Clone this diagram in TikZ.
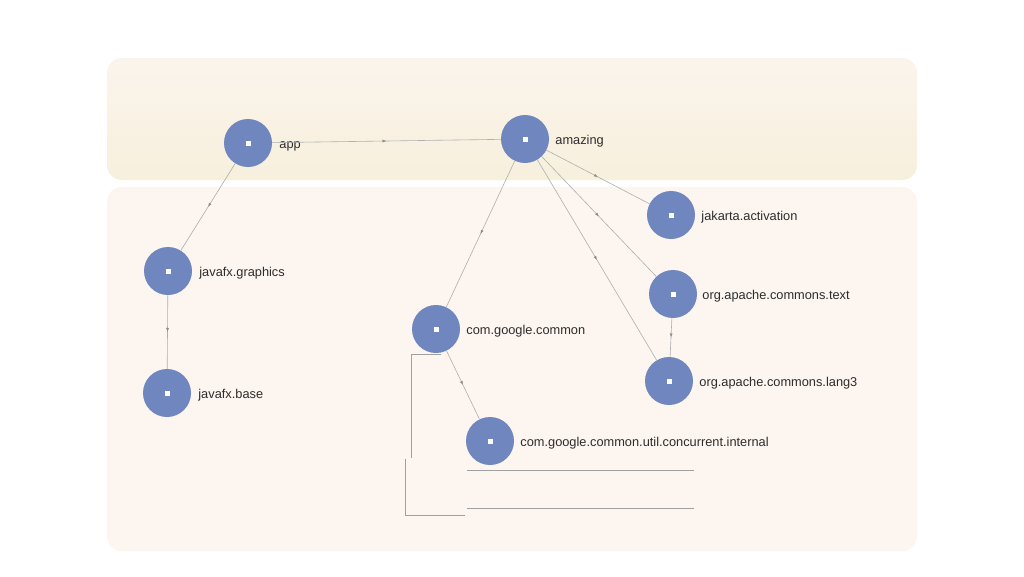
\documentclass[tikz,border=0pt]{standalone}
\usepackage{fontspec}
\setmainfont{Liberation Sans}
\usetikzlibrary{arrows.meta,decorations.markings}
\definecolor{nodeblue}{RGB}{112,134,190}
\definecolor{bandtop}{RGB}{251,244,236}
\definecolor{bandbot}{RGB}{247,240,221}
\definecolor{bandlow}{RGB}{252,245,240}
\definecolor{edgegray}{RGB}{175,175,175}
\definecolor{linegray}{RGB}{160,160,160}
\definecolor{textgray}{RGB}{45,45,45}
\tikzset{
  mod/.style={circle, fill=nodeblue, minimum size=48pt, inner sep=0pt, text=white},
  lbl/.style={anchor=west, inner sep=0pt, yshift=-2pt, text=textgray, font=\fontsize{12.8}{14}\selectfont, text height=9pt, text depth=2.5pt},
  edge/.style={draw=edgegray, line width=0.6pt,
    postaction={decorate, decoration={markings, mark=at position 0.5 with {\arrow[edgegray!80!black]{Latex[length=4pt,width=3pt]}}}}},
  stray/.style={draw=linegray, line width=0.6pt},
  band/.style={rounded corners=15pt}
}
\newcommand{\modsq}{\rule{5pt}{5pt}}
\begin{document}
\begin{tikzpicture}[x=1pt,y=-1pt]
\useasboundingbox[fill=white] (0,0) rectangle (1024,576);
% bands
\shade[band, top color=bandtop, bottom color=bandbot] (107,58) rectangle (917,180);
\fill[band, bandlow] (107,187) rectangle (917,551);
% nodes
\node[mod] (app) at (248,143) {\modsq};
\node[mod] (amazing) at (525,139) {\modsq};
\node[mod] (jfxg) at (168,271) {\modsq};
\node[mod] (jfxb) at (167,393) {\modsq};
\node[mod] (gcom) at (436,329) {\modsq};
\node[mod] (gint) at (490,441) {\modsq};
\node[mod] (jak) at (671,215) {\modsq};
\node[mod] (ctext) at (673,294) {\modsq};
\node[mod] (lang) at (669,381) {\modsq};
% labels
\node[lbl] (app-l) at ([xshift=7pt]app.east) {app};
\node[lbl] (amazing-l) at ([xshift=6pt]amazing.east) {amazing};
\node[lbl] (jfxg-l) at ([xshift=7pt]jfxg.east) {javafx.graphics};
\node[lbl] (jfxb-l) at ([xshift=7pt]jfxb.east) {javafx.base};
\node[lbl] (gcom-l) at ([xshift=6pt]gcom.east) {com.google.common};
\node[lbl] (gint-l) at ([xshift=6pt]gint.east) {com.google.common.util.concurrent.internal};
\node[lbl] (jak-l) at ([xshift=6pt]jak.east) {jakarta.activation};
\node[lbl] (ctext-l) at ([xshift=5pt]ctext.east) {org.apache.commons.text};
\node[lbl] (lang-l) at ([xshift=6pt]lang.east) {org.apache.commons.lang3};
% edges
\draw[edge] (app) -- (amazing);
\draw[edge] (app) -- (jfxg);
\draw[edge] (jfxg) -- (jfxb);
\draw[edge] (amazing) -- (gcom);
\draw[edge] (amazing) -- (jak);
\draw[edge] (amazing) -- (ctext);
\draw[edge] (amazing) -- (lang);
\draw[edge] (ctext) -- (lang);
\draw[edge] (gcom) -- (gint);
% stray lines
\coordinate (a1) at (441,354);
\coordinate (a2) at (411.5,354);
\coordinate (a3) at (411.5,458);
\coordinate (b1) at (405.5,459);
\coordinate (b2) at (405.5,515);
\coordinate (b3) at (465,515);
\coordinate (c1) at (467,470);
\coordinate (c2) at (694,470);
\coordinate (d1) at (467,508);
\coordinate (d2) at (694,508);
\draw[stray] (a1) -- (a2) -- (a3);
\draw[stray] (b1) -- (b2) -- (b3);
\draw[stray] (c1) -- (c2);
\draw[stray] (d1) -- (d2);
\end{tikzpicture}
\end{document}
